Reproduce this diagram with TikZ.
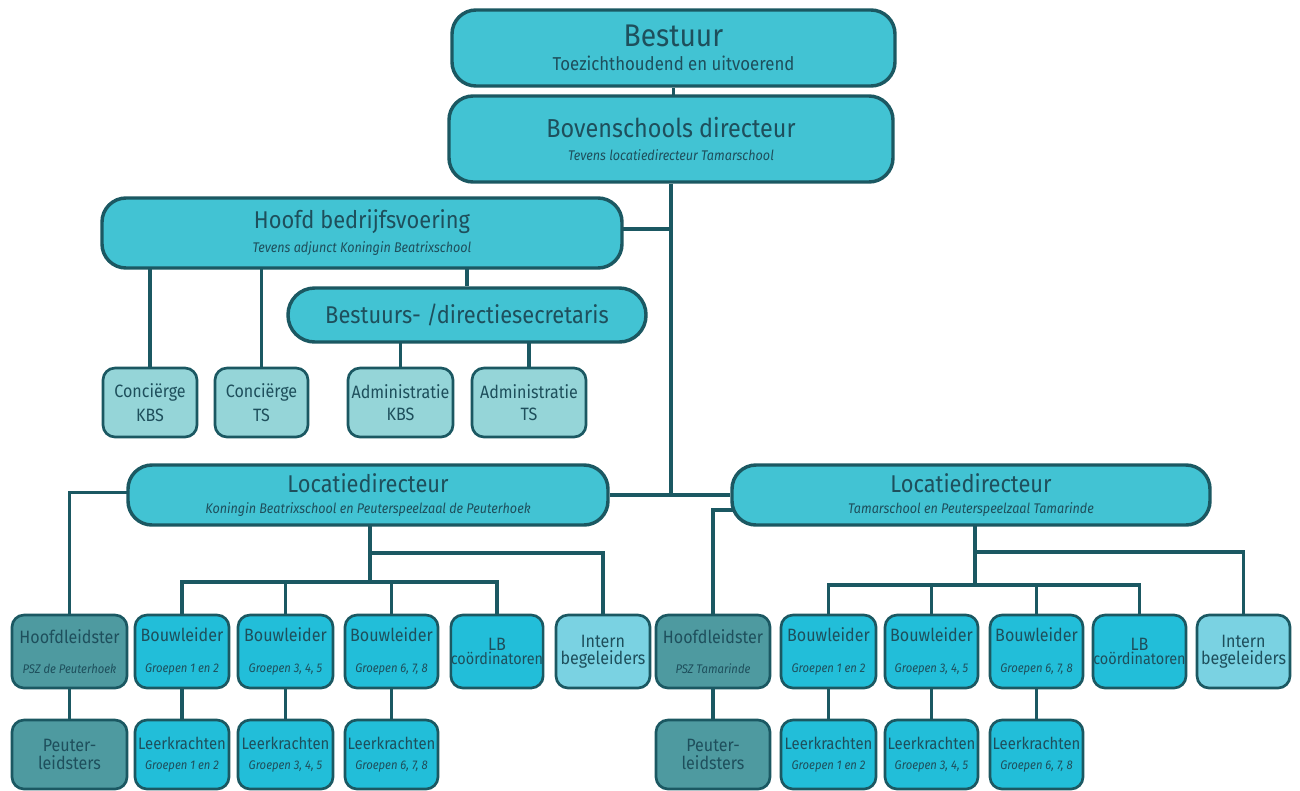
\documentclass[tikz,border=0pt]{standalone}
\usepackage{fontspec}
\setmainfont{Fira Sans}[FakeStretch=0.9]
\usetikzlibrary{backgrounds}
\definecolor{edge}{HTML}{1B5862}
\definecolor{txt}{HTML}{1E4F5C}
\definecolor{topfill}{HTML}{42C3D3}
\definecolor{bfill}{HTML}{22BED9}
\definecolor{cfill}{HTML}{95D5D8}
\definecolor{hfill}{HTML}{4E9AA0}
\definecolor{ifill}{HTML}{7AD2E2}
\newcommand\tA{\fontsize{23.5}{26}\selectfont}
\newcommand\tB{\fontsize{19.5}{22}\selectfont}
\newcommand\tC{\fontsize{18.2}{20}\selectfont}
\newcommand\tD{\fontsize{18.2}{20}\selectfont}
\newcommand\sA{\fontsize{14}{16}\selectfont}
\newcommand\sI{\fontsize{10.5}{12}\selectfont\itshape}
\newcommand\mT{\fontsize{13.4}{15}\selectfont}
\newcommand\mL{\fontsize{12.4}{14}\selectfont}
\newcommand\mC{\fontsize{12}{14}\selectfont}
\newcommand\mS{\fontsize{9.4}{11}\selectfont\itshape}
\tikzset{
  big/.style={draw=edge, line width=2.6pt, rounded corners=18pt, fill=topfill, text=txt, align=center, inner sep=0pt},
  small/.style={draw=edge, line width=2pt, rounded corners=9pt, text=txt, align=center, inner sep=0pt},
  lower/.style={small, minimum height=54.75pt},
  bottom/.style={small, minimum height=51.75pt},
  conc/.style={small, fill=cfill, minimum height=51.75pt},
  bou/.style={fill=bfill},
  hl/.style={fill=hfill},
  ib/.style={fill=ifill},
  conn/.style={draw=edge, line width=2.5pt}
}
\begin{document}
\begin{tikzpicture}[x=0.75pt,y=-0.75pt]
\useasboundingbox (0,0) rectangle (1300,790);
% top
\node[big, minimum width=332.25pt, minimum height=57pt] (bestuur) at (673.5,48)
  {\raisebox{2pt}{\tA Bestuur}\\[4pt]\sA Toezichthoudend en uitvoerend};
\node[big, minimum width=333pt, minimum height=64.5pt] (bov) at (671,139)
  {\tB Bovenschools directeur\\[5pt]\sI Tevens locatiedirecteur Tamarschool};
\node[big, minimum width=390pt, minimum height=52.5pt] (hoofd) at (362,233)
  {\raisebox{2pt}{\tC Hoofd bedrijfsvoering}\\[4pt]\sI Tevens adjunct Koningin Beatrixschool};
\node[big, rounded corners=20pt, minimum width=268.5pt, minimum height=40.5pt] (sec) at (467,315)
  {\tD Bestuurs- /directiesecretaris};
\node[conc, minimum width=70.5pt] (conc1) at (150,402.5) {\mT Conciërge\\[5pt]\mT KBS};
\node[conc, minimum width=69.75pt] (conc2) at (261.5,402.5) {\mT Conciërge\\[5pt]\mT TS};
\node[conc, minimum width=78.75pt] (adm1) at (400.5,402.5) {\mT Administratie\\[5pt]\mT KBS};
\node[conc, minimum width=85.5pt] (adm2) at (529,402.5) {\mT Administratie\\[5pt]\mT TS};
\node[big, minimum width=360pt, minimum height=45pt] (locL) at (368,495)
  {\tC Locatiedirecteur\\[4pt]\sI Koningin Beatrixschool en Peuterspeelzaal de Peuterhoek};
\node[big, minimum width=358.5pt, minimum height=45pt] (locR) at (971,495)
  {\tC Locatiedirecteur\\[4pt]\sI Tamarschool en Peuterspeelzaal Tamarinde};
% left lower row
\node[lower, hl, minimum width=86.25pt] (hlL) at (69.5,651.5) {\mT Hoofdleidster\\[11pt]\mS PSZ de Peuterhoek};
\node[lower, bou, minimum width=70.5pt] (b1L) at (182,651.5) {\mT Bouwleider\\[11pt]\mS Groepen 1 en 2};
\node[lower, bou, minimum width=71.25pt] (b2L) at (285.5,651.5) {\mT Bouwleider\\[11pt]\mS Groepen 3, 4, 5};
\node[lower, bou, minimum width=69.75pt] (b3L) at (391.5,651.5) {\mT Bouwleider\\[11pt]\mS Groepen 6, 7, 8};
\node[lower, bou, minimum width=69pt] (lbL) at (497,651.5) {\mT LB\\[-1pt]\mC coördinatoren};
\node[lower, ib, minimum width=70.5pt] (ibL) at (603,651.5) {\mT Intern\\[1pt]\mT begeleiders};
\node[bottom, hl, minimum width=86.25pt] (plL) at (69.5,754.5) {\mT Peuter-\\[1pt]\mT leidsters};
\node[bottom, bou, minimum width=70.5pt] (lk1L) at (182,754.5) {\mL Leerkrachten\\[3pt]\mS Groepen 1 en 2};
\node[bottom, bou, minimum width=71.25pt] (lk2L) at (285.5,754.5) {\mL Leerkrachten\\[3pt]\mS Groepen 3, 4, 5};
\node[bottom, bou, minimum width=69.75pt] (lk3L) at (391.5,754.5) {\mL Leerkrachten\\[3pt]\mS Groepen 6, 7, 8};
% right lower row
\node[lower, hl, minimum width=85.5pt] (hlR) at (713,651.5) {\mT Hoofdleidster\\[11pt]\mS PSZ Tamarinde};
\node[lower, bou, minimum width=71.25pt] (b1R) at (828.5,651.5) {\mT Bouwleider\\[11pt]\mS Groepen 1 en 2};
\node[lower, bou, minimum width=69.75pt] (b2R) at (931.5,651.5) {\mT Bouwleider\\[11pt]\mS Groepen 3, 4, 5};
\node[lower, bou, minimum width=69.75pt] (b3R) at (1036.5,651.5) {\mT Bouwleider\\[11pt]\mS Groepen 6, 7, 8};
\node[lower, bou, minimum width=69.75pt] (lbR) at (1139.5,651.5) {\mT LB\\[-1pt]\mC coördinatoren};
\node[lower, ib, minimum width=69.75pt] (ibR) at (1243.5,651.5) {\mT Intern\\[1pt]\mT begeleiders};
\node[bottom, hl, minimum width=85.5pt] (plR) at (713,754.5) {\mT Peuter-\\[1pt]\mT leidsters};
\node[bottom, bou, minimum width=71.25pt] (lk1R) at (828.5,754.5) {\mL Leerkrachten\\[3pt]\mS Groepen 1 en 2};
\node[bottom, bou, minimum width=69.75pt] (lk2R) at (931.5,754.5) {\mL Leerkrachten\\[3pt]\mS Groepen 3, 4, 5};
\node[bottom, bou, minimum width=69.75pt] (lk3R) at (1036.5,754.5) {\mL Leerkrachten\\[3pt]\mS Groepen 6, 7, 8};
% helper coordinates
\coordinate (jL) at (370,553);
\coordinate (barL) at (0,582);
\coordinate (jR) at (975,552);
\coordinate (barR) at (0,585);
\begin{pgfonlayer}{background}
\fill[white] (0,0) rectangle (1300,790);
\draw[conn] (bestuur) -- (bestuur |- bov);
\draw[conn] (bov) -- (bov |- locL);
\draw[conn] ([yshift=3pt]hoofd.center) -- ([yshift=3pt]hoofd.center -| bov);
\draw[conn] (locL) -- (locR);
\draw[conn] (conc1) -- (conc1 |- hoofd);
\draw[conn] (conc2) -- (conc2 |- hoofd);
\draw[conn] (sec) -- (sec |- hoofd);
\draw[conn] (adm1) -- (adm1 |- sec);
\draw[conn] (adm2) -- (adm2 |- sec);
% left tree
\draw[conn] ([yshift=2pt]locL.center) -| (hlL);
\draw[conn] (hlL) -- (plL);
\draw[conn] (locL.center -| jL) -- (jL) -| (ibL);
\draw[conn] (jL) -- (jL |- barL);
\draw[conn] (b1L) |- (barL -| lbL) -- (lbL);
\draw[conn] (b2L) -- (b2L |- barL);
\draw[conn] (b3L) -- (b3L |- barL);
\draw[conn] (b1L) -- (lk1L);
\draw[conn] (b2L) -- (lk2L);
\draw[conn] (b3L) -- (lk3L);
% right tree
\draw[conn] ([yshift=-11.25pt]locR.center) -| (hlR);
\draw[conn] (hlR) -- (plR);
\draw[conn] (locR.center -| jR) -- (jR) -| (ibR);
\draw[conn] (jR) -- (jR |- barR);
\draw[conn] (b1R) |- (barR -| lbR) -- (lbR);
\draw[conn] (b2R) -- (b2R |- barR);
\draw[conn] (b3R) -- (b3R |- barR);
\draw[conn] (b1R) -- (lk1R);
\draw[conn] (b2R) -- (lk2R);
\draw[conn] (b3R) -- (lk3R);
\end{pgfonlayer}
\end{tikzpicture}
\end{document}
